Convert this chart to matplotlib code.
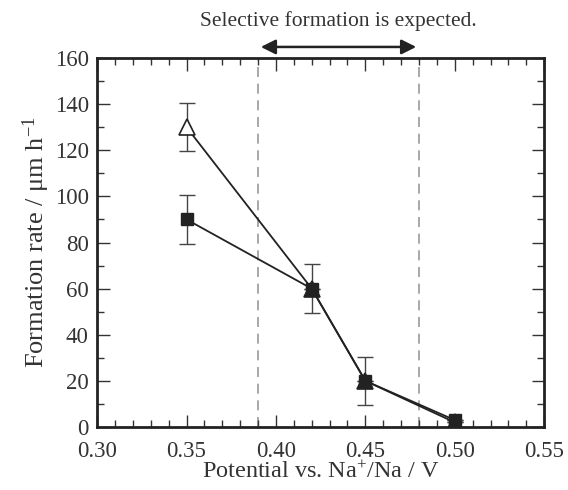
import matplotlib
matplotlib.use("Agg")
import matplotlib.pyplot as plt
from matplotlib.ticker import MultipleLocator, FormatStrFormatter

plt.rcParams['font.family'] = ['Liberation Serif', 'DejaVu Serif']
plt.rcParams['mathtext.fontset'] = 'custom'
plt.rcParams['mathtext.rm'] = 'Liberation Serif'
plt.rcParams['mathtext.it'] = 'Liberation Serif:italic'

potential = [0.35, 0.42, 0.45, 0.50]
rate_square = [90, 60, 20, 3]
err_square = [10.5, 0, 0, 0]
rate_triangle = [130, 60, 20, 2]
err_triangle = [10.5, 10.5, 10.5, 0]
region = [0.39, 0.48]

fig = plt.figure(figsize=(5.68, 4.90), dpi=100)
ax = fig.add_axes([0.171, 0.1286, 0.787, 0.753])

col = '#222222'
ax.errorbar(potential, rate_triangle, yerr=err_triangle, fmt='none', ecolor='#444444',
            elinewidth=1.0, capsize=6, capthick=1.0, zorder=2)
ax.errorbar(potential, rate_square, yerr=err_square, fmt='none', ecolor='#444444',
            elinewidth=1.0, capsize=6, capthick=1.0, zorder=2)
ax.plot(potential, rate_triangle, '-', color=col, lw=1.3, zorder=3)
ax.plot(potential, rate_square, '-', color=col, lw=1.3, zorder=3)
ax.plot(potential[:1], rate_triangle[:1], '^', ms=11, mfc='white', mec=col, mew=1.2, zorder=4)
ax.plot(potential[1:], rate_triangle[1:], '^', ms=11, mfc=col, mec=col, mew=1.2, zorder=4)
ax.plot(potential, rate_square, 's', ms=8, mfc=col, mec=col, zorder=5)

for xv in region:
    ax.axvline(xv, color='#999999', ls=(0, (6, 4)), lw=1.2, zorder=1)

ax.annotate('', xy=(region[0], 1.03), xytext=(region[1], 1.03),
            xycoords=('data', 'axes fraction'),
            arrowprops=dict(arrowstyle='<|-|>', color=col, lw=1.8, mutation_scale=22),
            annotation_clip=False)
ax.text(sum(region) / 2, 1.10, 'Selective formation is expected.', transform=ax.get_xaxis_transform(),
        ha='center', va='center', fontsize=15.5, color='#333333')

ax.set_xlim(0.30, 0.55)
ax.set_ylim(0, 160)
ax.xaxis.set_major_locator(MultipleLocator(0.05))
ax.xaxis.set_minor_locator(MultipleLocator(0.01))
ax.yaxis.set_major_locator(MultipleLocator(20))
ax.yaxis.set_minor_locator(MultipleLocator(10))
ax.xaxis.set_major_formatter(FormatStrFormatter('%.2f'))
ax.tick_params(which='both', direction='in', top=True, right=True, labelsize=16.5,
               colors='#333333', width=1.0)
ax.tick_params(which='major', length=9)
ax.tick_params(which='minor', length=5)
ax.tick_params(axis='x', pad=10)
ax.tick_params(axis='y', pad=6)
for s in ax.spines.values():
    s.set_linewidth(2.0)
    s.set_color('#222222')

ax.set_xlabel(r'Potential vs. Na$^{+}$/Na / V', fontsize=17.5, color='#333333', labelpad=0)
ax.set_ylabel(r'Formation rate / μm h$^{-1}$', fontsize=19, color='#333333', labelpad=2)

fig.savefig('out.png', dpi=100)
